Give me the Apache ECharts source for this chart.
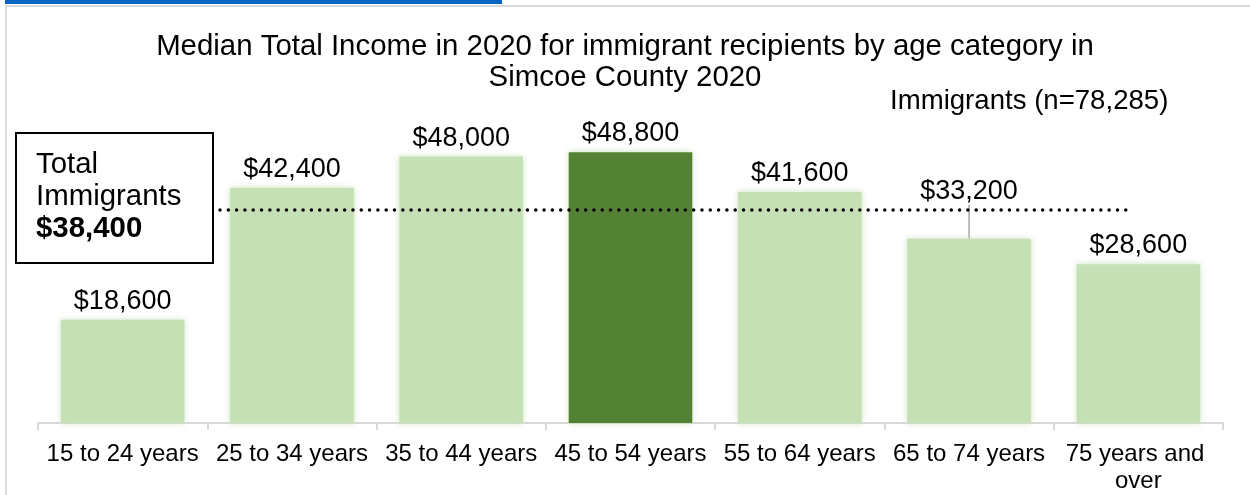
<!DOCTYPE html>
<html>
<head>
<meta charset="utf-8">
<title>Median Total Income – Simcoe County 2020</title>
<script src="https://cdn.jsdelivr.net/npm/echarts@6/dist/echarts.min.js"></script>
<style>
  html, body { margin: 0; padding: 0; background: #ffffff; }
  #chart { width: 1250px; height: 495px; }
</style>
</head>
<body>
<div id="chart"></div>
<script>
// Age groups and median total income of immigrant income recipients
const ageGroups = ['15 to 24 years', '25 to 34 years', '35 to 44 years', '45 to 54 years',
                   '55 to 64 years', '65 to 74 years', '75 years and over'];
const medianIncome = [18600, 42400, 48000, 48800, 41600, 33200, 28600];
const totalMedian = 38400;          // all immigrants, shown as the dotted reference line
const sampleLabel = 'Immigrants (n=78,285)';
const highlightIndex = 3;           // 45 to 54 years drawn in dark green
const raisedLabelIndex = 5;         // label lifted off its bar with a leader line

const FONT = '"Liberation Sans", Arial, sans-serif';
const LIGHT = '#C5E0B4';
const DARK = '#548235';
const money = v => '$' + v.toLocaleString('en-US');

const chart = echarts.init(document.getElementById('chart'), null, { renderer: 'canvas' });

const barData = medianIncome.map((v, i) => {
  const item = { value: v };
  if (i === highlightIndex) item.itemStyle = { color: DARK };
  if (i === raisedLabelIndex) item.labelLine = { show: true };
  return item;
});

chart.setOption({
  animation: false,
  backgroundColor: '#ffffff',
  textStyle: { fontFamily: FONT },
  title: {
    text: 'Median Total Income in 2020 for immigrant recipients by age category in\nSimcoe County 2020',
    left: 'center',
    top: 26,
    textStyle: { fontFamily: FONT, fontSize: 29.4, fontWeight: 'normal', color: '#000', lineHeight: 31.5 }
  },
  grid: { left: 38, right: 27, top: 90, bottom: 68, containLabel: false },
  xAxis: [{
    type: 'category',
    data: ageGroups,
    axisLine: { lineStyle: { color: '#d9d9d9', width: 2 } },
    axisTick: { show: true, length: 7, lineStyle: { color: '#d9d9d9', width: 2 } },
    axisLabel: {
      interval: 0, margin: 18, color: '#000', fontFamily: FONT, fontSize: 24, lineHeight: 27,
      width: 166, overflow: 'break'
    }
  }, {
    // hidden value axis spanning the same bands, used to place the reference line
    type: 'value', min: -0.5, max: ageGroups.length - 0.5, show: false
  }],
  yAxis: {
    type: 'value', min: 0, max: 60000, show: false, splitLine: { show: false }
  },
  series: [{
    type: 'bar',
    data: barData,
    barWidth: '73%',
    itemStyle: { color: LIGHT, shadowBlur: 6, shadowColor: 'rgba(197,224,180,0.9)' },
    label: {
      show: true, position: 'top', distance: 5, formatter: p => money(p.value),
      color: '#000', fontFamily: FONT, fontSize: 27
    },
    labelLine: { show: false, lineStyle: { color: '#a6a6a6', width: 1.5 } },
    labelLayout: p => (p.dataIndex === raisedLabelIndex ? { dy: -29 } : {})
  }, {
    type: 'line',
    xAxisIndex: 1,
    data: [[0.575, totalMedian], [5.968, totalMedian]],
    symbol: 'none',
    silent: true,
    z: 5,
    lineStyle: { color: '#000', width: 3.5, type: [0.01, 8.3], cap: 'round' }
  }],
  graphic: [
    // hyperlink underline strip along the top
    { type: 'rect', shape: { x: 5, y: 0, width: 497, height: 4 }, style: { fill: '#0563C1' }, silent: true },
    // chart area frame (left and top edges)
    { type: 'polyline', shape: { points: [[6, 495], [6, 6], [1250, 6]] },
      style: { stroke: '#d9d9d9', lineWidth: 2, fill: null }, silent: true },
    // sample size note
    { type: 'text', left: 890, top: 87,
      style: { text: sampleLabel, font: '27.6px ' + FONT, fill: '#000' } },
    // callout box for the overall median
    { type: 'rect', shape: { x: 16, y: 133, width: 197, height: 130 },
      style: { fill: '#fff', stroke: '#000', lineWidth: 2 }, z: 10 },
    { type: 'text', left: 36, top: 150, z: 11,
      style: {
        text: '{a|Total}\n{a|Immigrants}\n{b|' + money(totalMedian) + '}',
        rich: {
          a: { fontFamily: FONT, fontSize: 29.4, lineHeight: 32, fill: '#000', color: '#000' },
          b: { fontFamily: FONT, fontSize: 29.4, lineHeight: 32, fontWeight: 'bold', fill: '#000', color: '#000' }
        }
      } }
  ]
});
</script>
</body>
</html>
